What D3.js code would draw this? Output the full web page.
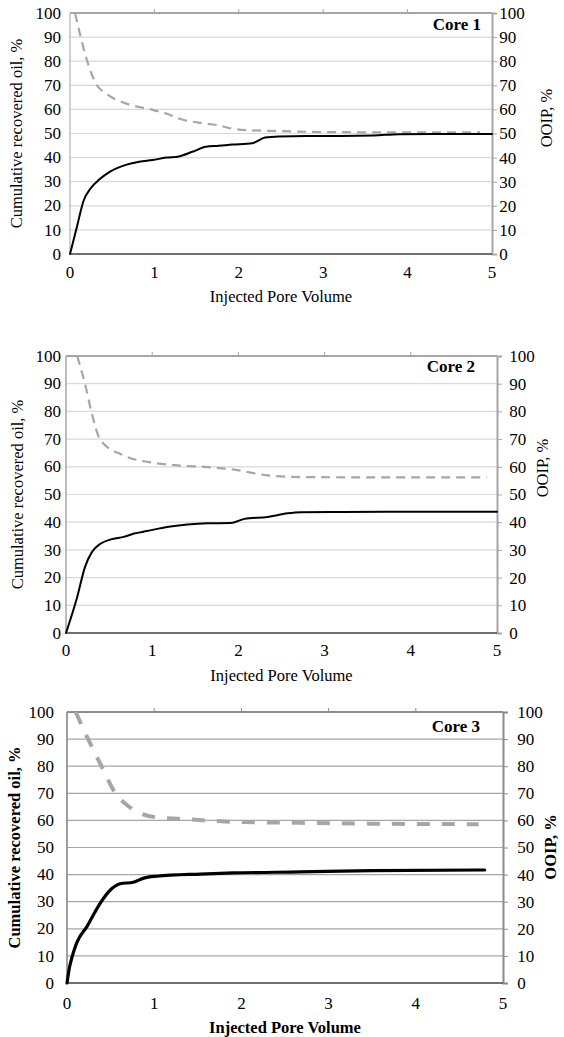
<!DOCTYPE html>
<html>
<head>
<meta charset="utf-8">
<script src="https://cdn.jsdelivr.net/npm/d3@7"></script>
<style>
  body { margin: 0; background: #fff; }
  svg { display: block; font-family: "Liberation Serif", "Times New Roman", serif; }
</style>
</head>
<body>
<svg id="chart" width="564" height="1037"></svg>
<script>
'use strict';

// axis ticks shared by the three panels
var xTicks = [0, 1, 2, 3, 4, 5];
var yTicks = [0, 10, 20, 30, 40, 50, 60, 70, 80, 90, 100];
var coreNames = ['Core 1', 'Core 2', 'Core 3'];
var xTitle = 'Injected Pore Volume';
var yTitle = 'Cumulative recovered oil, %';
var y2Title = 'OOIP, %';

// core 1
var pv1 = [0, 0.08, 0.16, 0.25, 0.35, 0.47, 0.67, 0.82, 0.98, 1.14, 1.29, 1.45, 1.61, 1.76, 1.92, 2.16, 2.31, 2.47, 2.8, 3.2, 3.6, 3.9, 4.3, 5.0];
var oil1 = [0, 11, 22, 27.5, 31, 34.1, 37.1, 38.3, 39, 40, 40.5, 42.4, 44.5, 44.9, 45.4, 46, 48.3, 48.8, 49, 49, 49.2, 49.7, 49.8, 49.8];
var ooipPv1 = [0.06, 0.12, 0.2, 0.31, 0.43, 0.67, 0.98, 1.14, 1.29, 1.61, 1.76, 1.92, 2.08, 2.47, 3, 3.5, 4, 4.86];
var ooip1 = [100, 91, 80.5, 70.5, 66.5, 62.4, 59.8, 58.3, 56.2, 54.1, 53.4, 52, 51.4, 51, 50.6, 50.5, 50.5, 50.5];

// core 2
var pv2 = [0, 0.13, 0.22, 0.3, 0.4, 0.52, 0.67, 0.79, 0.94, 1.17, 1.41, 1.64, 1.91, 2.07, 2.34, 2.57, 2.72, 3.2, 4, 5];
var oil2 = [0, 13, 23.8, 29.2, 32.2, 33.8, 34.7, 35.9, 36.8, 38.3, 39.2, 39.6, 39.7, 41.2, 41.9, 43.2, 43.6, 43.7, 43.8, 43.8];
var ooipPv2 = [0.13, 0.22, 0.3, 0.4, 0.67, 1.02, 1.29, 1.64, 1.95, 2.34, 2.72, 3.5, 4.88];
var ooip2 = [100, 90, 79.2, 69.6, 64.1, 61.4, 60.5, 59.9, 59, 56.9, 56.3, 56.2, 56.2];

// core 3
var pv3 = [0, 0.03, 0.06, 0.11, 0.23, 0.38, 0.5, 0.61, 0.76, 0.88, 1.03, 1.53, 1.91, 2.68, 3.5, 4.79];
var oil3 = [0, 6, 9.8, 14.7, 20.9, 29.4, 34.4, 36.6, 37.2, 38.7, 39.4, 40.2, 40.6, 41, 41.5, 41.7];
var ooipPv3 = [0.1, 0.23, 0.38, 0.57, 0.69, 0.99, 1.38, 1.91, 2.68, 3.5, 4.72];
var ooip3 = [100, 90.8, 81, 69.3, 65.6, 61.3, 60.4, 59.5, 59.1, 58.8, 58.6];

function zip(xs, ys){
	return xs.map(function(x, i){ return {x: x, y: ys[i]}; });
}

var panels = [
	{
		name: coreNames[0], oil: zip(pv1, oil1), ooip: zip(ooipPv1, ooip1),
		left: 70, right: 492, top: 13, bottom: 254,
		leftPad: 9, rightPad: 7, xLabY: 278, titleY: 302, yTitleX: 22, y2TitleX: 552, y2TitleY: 118,
		coreX: 481, coreY: 30, bold: false,
		grid: '#d9d9d9', leftAxis: '#bfbfbf', sideAxis: '#a6a6a6', base: '#404040',
		oilW: 2, ooipW: 2.2, dash: '9,6'
	},
	{
		name: coreNames[1], oil: zip(pv2, oil2), ooip: zip(ooipPv2, ooip2),
		left: 66, right: 497, top: 356, bottom: 633,
		leftPad: 5, rightPad: 12, xLabY: 656, titleY: 681, yTitleX: 23, y2TitleX: 548, y2TitleY: 468,
		coreX: 475, coreY: 372, bold: false,
		grid: '#d9d9d9', leftAxis: '#a6a6a6', sideAxis: '#a6a6a6', base: '#404040',
		oilW: 2, ooipW: 2.2, dash: '9,6'
	},
	{
		name: coreNames[2], oil: zip(pv3, oil3), ooip: zip(ooipPv3, ooip3),
		left: 67, right: 503, top: 712, bottom: 983,
		leftPad: 13, rightPad: 14, xLabY: 1009, titleY: 1033, yTitleX: 20, y2TitleX: 556, y2TitleY: 847,
		coreX: 480, coreY: 732, bold: true,
		grid: '#a6a6a6', leftAxis: '#7f7f7f', sideAxis: '#8c8c8c', base: '#404040',
		oilW: 3.2, ooipW: 4, dash: '13,12'
	}
];

var svg = d3.select('#chart');

panels.forEach(function(p){
	var x = d3.scaleLinear().domain([0, 5]).range([p.left, p.right]);
	var y = d3.scaleLinear().domain([0, 100]).range([p.bottom, p.top]);
	var g = svg.append('g');
	var weight = p.bold ? 'bold' : 'normal';

	// horizontal gridlines
	g.append('g').selectAll('line')
		.data(yTicks.filter(function(d){ return d > 0 && d < 100; }))
		.enter().append('line')
			.attr('x1', p.left).attr('x2', p.right)
			.attr('y1', function(d){ return y(d); })
			.attr('y2', function(d){ return y(d); })
			.attr('stroke', p.grid)
			.attr('stroke-width', 1.2);

	// top secondary axis with small upward ticks
	g.append('line')
		.attr('x1', p.left).attr('x2', p.right)
		.attr('y1', p.top).attr('y2', p.top)
		.attr('stroke', p.sideAxis).attr('stroke-width', 2);
	g.append('g').selectAll('line')
		.data(xTicks.slice(1, 5))
		.enter().append('line')
			.attr('x1', function(d){ return x(d); })
			.attr('x2', function(d){ return x(d); })
			.attr('y1', p.top).attr('y2', p.top - 4)
			.attr('stroke', p.sideAxis).attr('stroke-width', 1);

	// left axis
	g.append('line')
		.attr('x1', p.left).attr('x2', p.left)
		.attr('y1', p.top).attr('y2', p.bottom)
		.attr('stroke', p.leftAxis).attr('stroke-width', 1.5);

	// right axis (OOIP)
	var right = d3.axisRight(y).tickValues(yTicks).tickSize(5).tickPadding(p.rightPad - 3);
	var ra = g.append('g')
		.attr('transform', 'translate(' + p.right + ',0)')
		.call(right);
	ra.select('.domain').attr('stroke', p.sideAxis).attr('stroke-width', 2);
	ra.selectAll('.tick line').attr('stroke', p.sideAxis);
	ra.selectAll('.tick text').attr('fill', '#000').attr('font-size', 17)
		.attr('font-family', '"Liberation Serif", serif').attr('dx', '-0.1em');

	// left tick labels
	g.append('g').selectAll('text')
		.data(yTicks)
		.enter().append('text')
			.attr('x', p.left - p.leftPad)
			.attr('y', function(d){ return y(d); })
			.attr('dy', '0.33em')
			.attr('text-anchor', 'end')
			.attr('font-size', 17)
			.text(function(d){ return d; });

	// bottom labels
	g.append('g').selectAll('text')
		.data(xTicks)
		.enter().append('text')
			.attr('x', function(d){ return x(d); })
			.attr('y', p.xLabY)
			.attr('text-anchor', 'middle')
			.attr('font-size', 17)
			.text(function(d){ return d; });

	// bottom axis line
	g.append('line')
		.attr('x1', p.left).attr('x2', p.right)
		.attr('y1', p.bottom).attr('y2', p.bottom)
		.attr('stroke', p.base).attr('stroke-width', 1.5);

	var line = d3.line()
		.x(function(d){ return x(d.x); })
		.y(function(d){ return y(d.y); })
		.curve(d3.curveMonotoneX);

	g.append('path')
		.datum(p.ooip)
		.attr('fill', 'none')
		.attr('stroke', '#a6a6a6')
		.attr('stroke-width', p.ooipW)
		.attr('stroke-dasharray', p.dash)
		.attr('d', line);

	g.append('path')
		.datum(p.oil)
		.attr('fill', 'none')
		.attr('stroke', '#000')
		.attr('stroke-width', p.oilW)
		.attr('stroke-linejoin', 'round')
		.attr('stroke-linecap', 'round')
		.attr('d', line);

	// titles
	g.append('text')
		.attr('x', (p.left + p.right) / 2)
		.attr('y', p.titleY)
		.attr('text-anchor', 'middle')
		.attr('font-size', 16.5)
		.attr('font-weight', weight)
		.text(xTitle);

	g.append('text')
		.attr('transform', 'translate(' + p.yTitleX + ',' + ((p.top + p.bottom) / 2) + ') rotate(-90)')
		.attr('text-anchor', 'middle')
		.attr('font-size', 16.5)
		.attr('font-weight', weight)
		.text(yTitle);

	g.append('text')
		.attr('transform', 'translate(' + p.y2TitleX + ',' + p.y2TitleY + ') rotate(-90)')
		.attr('text-anchor', 'middle')
		.attr('font-size', 16.5)
		.attr('font-weight', weight)
		.text(y2Title);

	g.append('text')
		.attr('x', p.coreX)
		.attr('y', p.coreY)
		.attr('text-anchor', 'end')
		.attr('font-size', 17)
		.attr('font-weight', 'bold')
		.text(p.name);
});
</script>
</body>
</html>
